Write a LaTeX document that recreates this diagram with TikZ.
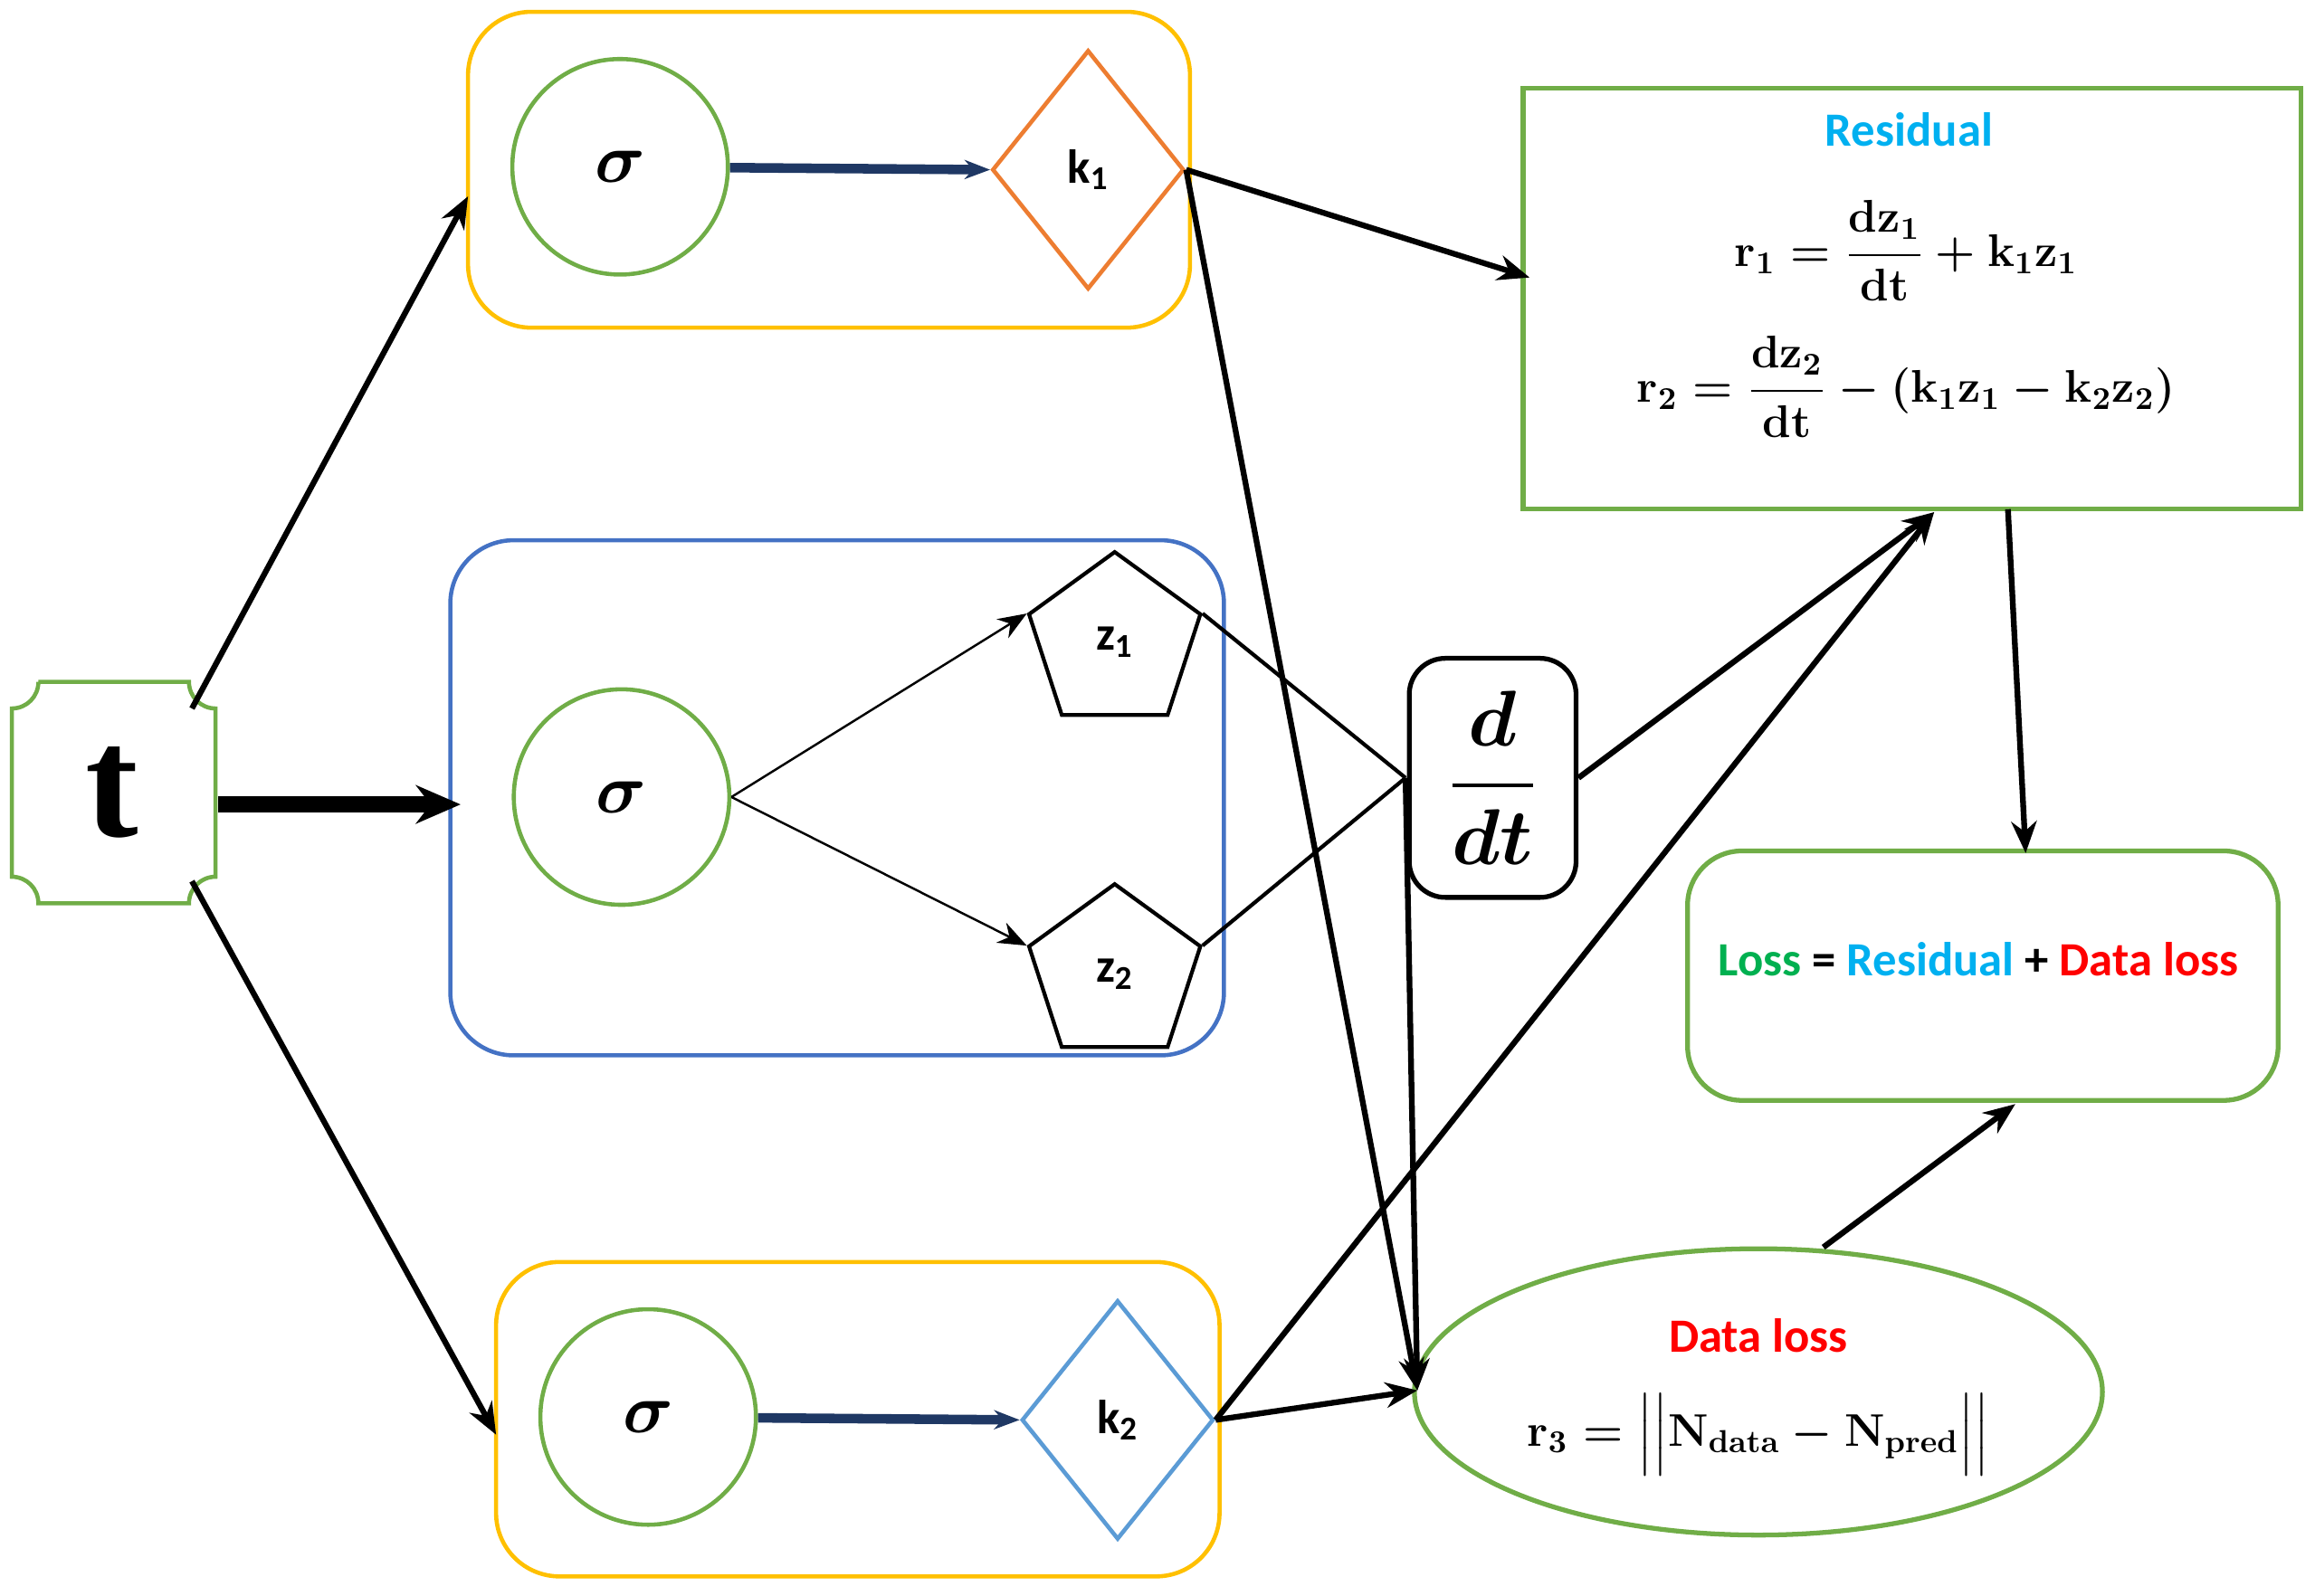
\documentclass[tikz,border=0pt]{standalone}
\usepackage{amsmath}
\usepackage{fontspec}
\setmainfont{Carlito}
\newfontfamily\tserif{Liberation Serif}
\usetikzlibrary{arrows.meta,shapes.geometric}
\definecolor{gr}{RGB}{112,173,71}
\definecolor{yl}{RGB}{255,192,0}
\definecolor{bl}{RGB}{68,114,196}
\definecolor{org}{RGB}{237,125,49}
\definecolor{lb}{RGB}{91,155,213}
\definecolor{navy}{RGB}{31,56,100}
\definecolor{cy}{RGB}{0,176,240}
\definecolor{lgr}{RGB}{0,176,80}
\begin{document}
\begin{tikzpicture}[x=0.01631cm,y=-0.01631cm,
  box/.style={draw=#1,line width=1.3pt,rounded corners=0.7cm},
  sig/.style={circle,draw=gr,line width=1.3pt,minimum size={146*0.01631cm},inner sep=0pt},
  dia/.style={diamond,draw=#1,line width=1.3pt,minimum width={130*0.01631cm},minimum height={162*0.01631cm},inner sep=0pt,font=\fontsize{15}{15}\selectfont},
  pent/.style={regular polygon,regular polygon sides=5,draw,line width=1.2pt,minimum size={122*0.01631cm},inner sep=0pt,font=\fontsize{15}{15}\selectfont},
  eq/.style={font=\fontsize{14}{14}\selectfont},
  arr/.style={-{Stealth[length=10pt,width=8pt]},line width=1.8pt},
  thin/.style={-{Stealth[length=9pt,width=7pt]},line width=0.7pt},
  dbl/.style={-{Stealth[length=8pt,width=6pt]},line width=3pt,navy}]
\useasboundingbox (0,0) rectangle (1568,1081);
% t node
\draw[gr,line width=1.3pt] (26,462) -- (128,462) .. controls (128,472) and (136,480) .. (146,480) -- (146,594) .. controls (136,594) and (128,602) .. (128,612) -- (26,612) .. controls (26,602) and (18,594) .. (8,594) -- (8,480) .. controls (18,480) and (26,472) .. (26,462);
\node[font=\fontsize{50}{50}\selectfont\tserif\bfseries] (t) at (76,537) {t};
% boxes
\draw[box=yl] (317,8) rectangle (806,222);
\draw[box=bl] (305,366) rectangle (829,715);
\draw[box=yl] (336,855) rectangle (826,1068);
\node[sig] (s1) at (420,113) {\scalebox{2.2}{$\boldsymbol{\sigma}$}};
\node[sig] (s2) at (421,540) {\scalebox{2.2}{$\boldsymbol{\sigma}$}};
\node[sig] (s3) at (439,960) {\scalebox{2.2}{$\boldsymbol{\sigma}$}};
\node[dia=org] (k1) at (737,115) {$\mathbf{k_1}$};
\node[dia=lb] (k2) at (757,962) {$\mathbf{k_2}$};
\node[pent] (z1) at (755,435) {$\mathbf{z_1}$};
\node[pent] (z2) at (755,660) {$\mathbf{z_2}$};
\draw[dbl] (s1) -- (k1.west);
\draw[dbl] (s3) -- (k2.west);
\draw[thin] (s2.east) -- (z1.corner 2);
\draw[thin] (s2.east) -- (z2.corner 2);
% d/dt
\node[draw,line width=1.5pt,rounded corners=0.4cm,minimum width={113*0.01631cm},minimum height={162*0.01631cm},font=\fontsize{34}{34}\selectfont] (d) at (1011,527) {$\boldsymbol{\dfrac{d}{dt}}$};
\coordinate (dl) at (952,527);
\draw[line width=1.2pt] (z1.corner 5) -- (dl);
\draw[line width=1.2pt] (z2.corner 5) -- (dl);
% residual
\node[draw=gr,line width=1.5pt,minimum width={527*0.01631cm},minimum height={285*0.01631cm},anchor=north west] (res) at (1030,58) {};
\node[text=cy,font=\fontsize{15}{15}\selectfont\bfseries] (rt) at (1293,88) {Residual};
\node[eq] (r1) at (1291,170) {$\boldsymbol{\mathbf{r_1}=\dfrac{\mathbf{dz_1}}{\mathbf{dt}}+\mathbf{k_1z_1}}$};
\node[eq] (r2) at (1291,262) {$\boldsymbol{\mathbf{r_2}=\dfrac{\mathbf{dz_2}}{\mathbf{dt}}-(\mathbf{k_1z_1}-\mathbf{k_2z_2})}$};
% loss
\node[draw=gr,line width=1.5pt,rounded corners=0.6cm,minimum width={400*0.01631cm},minimum height={169*0.01631cm}] (loss) at (1343,661) {};
\node[font=\fontsize{15}{15}\selectfont\bfseries] (lt) at (1340,650) {\textcolor{lgr}{Loss} = \textcolor{cy}{Residual} + \textcolor{red}{Data loss}};
% data loss
\node[ellipse,draw=gr,line width=1.5pt,minimum width={466*0.01631cm},minimum height={194*0.01631cm}] (dl2) at (1191,943) {};
\node[text=red,font=\fontsize{15}{15}\selectfont\bfseries] (dt) at (1191,905) {Data loss};
\node[eq] (r3) at (1191,972) {$\boldsymbol{\mathbf{r_3}=\Bigl|\Bigl|\mathbf{N_{data}}-\mathbf{N_{pred}}\Bigr|\Bigr|}$};
% connectors
\coordinate (tb) at (317,133);
\coordinate (tc) at (312,545);
\coordinate (td) at (336,972);
\coordinate (rin) at (1036,188);
\coordinate (rbot) at (1310,347);
\coordinate (din) at (960,942);
\coordinate (lin) at (1372,578);
\coordinate (lbot) at (1365,748);
\draw[arr] (130,480) -- (tb);
\draw[-{Stealth[length=14pt,width=12pt]},line width=5pt] (148,545) -- (tc);
\draw[arr] (130,597) -- (td);
\draw[arr] (k1.east) -- (rin);
\draw[arr] (k1.east) -- (din);
\draw[arr] (d.east) -- (rbot);
\draw[arr] (dl) -- (din);
\draw[arr] (k2.east) -- (rbot);
\draw[arr] (k2.east) -- (din);
\draw[arr] (1360,345) -- (lin);
\draw[arr] (1235,845) -- (lbot);
\end{tikzpicture}
\end{document}
